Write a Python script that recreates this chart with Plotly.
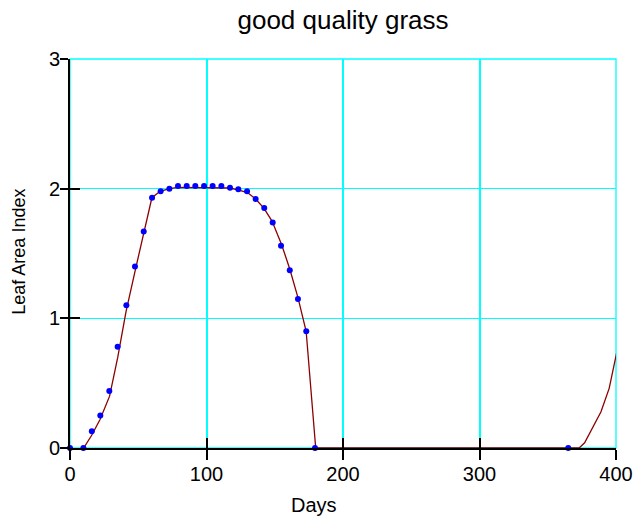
import plotly.graph_objects as go

# Observed LAI (dots)
days_obs = [0, 9.8, 16, 22.2, 28.8, 34.9, 41.3, 47.6, 54, 60.1, 66.4, 72.8, 79.1, 85.5,
            91.8, 98.2, 104.5, 110.9, 117.2, 123.3, 129.7, 136, 142.3, 148.5, 154.6,
            161, 167, 173.1, 179.5, 365]
lai_obs = [0, 0, 0.13, 0.25, 0.44, 0.78, 1.10, 1.40, 1.67, 1.93, 1.98, 2.00, 2.02, 2.02,
           2.02, 2.02, 2.02, 2.02, 2.007, 1.995, 1.98, 1.92, 1.85, 1.74, 1.56,
           1.37, 1.15, 0.90, 0.0, 0.0]

# Simulated LAI (line)
days_sim = [10, 16, 22, 29, 35, 41, 48, 54, 60, 66, 73, 79, 85, 92, 98, 104, 111, 117,
            123, 130, 136, 142, 148, 155, 161, 167, 173, 180, 373, 377, 389, 395, 401]
lai_sim = [0, 0.10, 0.22, 0.40, 0.70, 1.05, 1.38, 1.66, 1.93, 1.98, 2.00, 2.01, 2.01, 2.01,
           2.01, 2.01, 2.01, 2.005, 1.99, 1.97, 1.92, 1.85, 1.75, 1.57, 1.38, 1.16, 0.90,
           0.0, 0.0, 0.04, 0.28, 0.46, 0.76]

x_ticks = [0, 100, 200, 300, 400]
y_ticks = [0, 1, 2, 3]

font = "Liberation Sans, Arial, sans-serif"
grid = "#00FFFF"

fig = go.Figure()
fig.add_trace(go.Scatter(x=days_sim, y=lai_sim, mode="lines",
                         line=dict(color="#8B0000", width=1.3), showlegend=False,
                         cliponaxis=True))
fig.add_trace(go.Scatter(x=days_obs, y=lai_obs, mode="markers",
                         marker=dict(color="#0000FF", size=6), showlegend=False,
                         cliponaxis=False))
# dummy trace to render the overlay axes (inner half of crossing ticks)
fig.add_trace(go.Scatter(x=[None], y=[None], xaxis="x2", yaxis="y2",
                         showlegend=False, hoverinfo="skip"))

fig.update_layout(
    width=633, height=519,
    margin=dict(l=70, r=17, t=59, b=71, autoexpand=False),
    paper_bgcolor="white", plot_bgcolor="white",
    font=dict(family=font, size=20, color="black"),
    title=dict(text="good quality grass", x=0.5, xref="paper", xanchor="center",
               y=0.962, yanchor="middle", font=dict(size=26, family=font)),
    xaxis=dict(range=[0, 400], tickvals=x_ticks, showgrid=True, gridcolor=grid,
               gridwidth=1.5, zeroline=False, showline=True, linecolor="black",
               linewidth=2, ticks="outside", ticklen=10, tickwidth=2, tickcolor="black",
               tickfont=dict(size=20), automargin=False, ticklabelstandoff=-3),
    yaxis=dict(range=[0, 3], tickvals=y_ticks, showgrid=True, gridcolor=grid,
               gridwidth=1.2, zeroline=False, showline=True, linecolor="black",
               linewidth=2, ticks="outside", ticklen=8, tickwidth=2, tickcolor="black",
               tickfont=dict(size=20), automargin=False, ticklabelstandoff=-4),
    xaxis2=dict(range=[0, 400], tickvals=x_ticks, overlaying="x", side="bottom",
                anchor="y", showgrid=False, zeroline=False, showticklabels=False,
                ticks="inside", ticklen=10, tickwidth=2, tickcolor="black",
                automargin=False),
    yaxis2=dict(range=[0, 3], tickvals=y_ticks, overlaying="y", side="left",
                anchor="x", showgrid=False, zeroline=False, showticklabels=False,
                ticks="inside", ticklen=10, tickwidth=2, tickcolor="black",
                automargin=False),
    shapes=[dict(type="rect", xref="paper", yref="paper", x0=0, x1=1, y0=0, y1=1,
                 line=dict(color=grid, width=1.3), layer="below")],
    annotations=[
        dict(text="Days", xref="paper", yref="paper", x=(314 - 70) / 546, y=-0.147,
             xanchor="center", yanchor="middle", showarrow=False,
             font=dict(size=20, family=font)),
        dict(text="Leaf Area Index", xref="paper", yref="paper", x=-0.095,
             y=0.505, xanchor="center", yanchor="middle", textangle=-90,
             showarrow=False, font=dict(size=18, family=font)),
    ],
)

fig.write_html("out.html")
